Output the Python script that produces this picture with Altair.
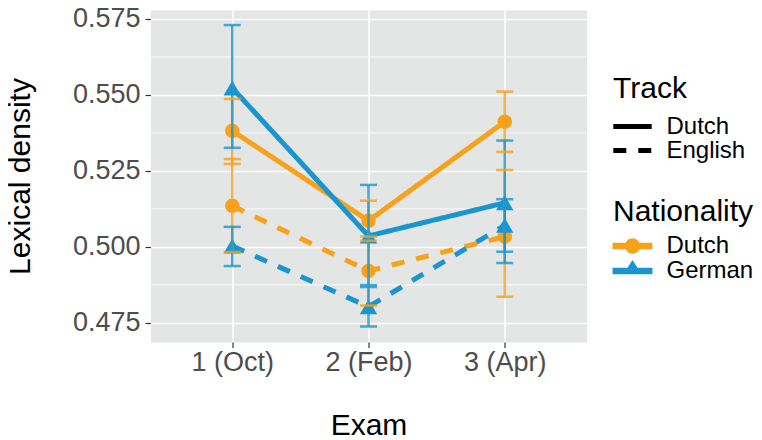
import altair as alt
import pandas as pd

# ---- data ----
exams = ["1 (Oct)", "2 (Feb)", "3 (Apr)"]
tracks = ["Dutch", "English"]
nationalities = ["Dutch", "German"]

dutch_dutch_mean = [0.5382, 0.5086, 0.5412]
dutch_dutch_lo = [0.5273, 0.5020, 0.5313]
dutch_dutch_hi = [0.5487, 0.5152, 0.5511]

dutch_english_mean = [0.5135, 0.4921, 0.5034]
dutch_english_lo = [0.4983, 0.4807, 0.4836]
dutch_english_hi = [0.5289, 0.5034, 0.5253]

german_dutch_mean = [0.5523, 0.5036, 0.5145]
german_dutch_lo = [0.5326, 0.4874, 0.4947]
german_dutch_hi = [0.5730, 0.5204, 0.5350]

german_english_mean = [0.5003, 0.4803, 0.5071]
german_english_lo = [0.4937, 0.4738, 0.4984]
german_english_hi = [0.5066, 0.4868, 0.5157]

y_ticks = [0.475, 0.500, 0.525, 0.550, 0.575]
minor_grid = [0.4875, 0.5125, 0.5375, 0.5625]
y_domain = [0.4687, 0.57796]

colors = ["#F8A11B", "#1996D0"]
dashes = [[1, 0], [13, 12]]

series = [
    ("Dutch", "Dutch", dutch_dutch_mean, dutch_dutch_lo, dutch_dutch_hi),
    ("Dutch", "English", dutch_english_mean, dutch_english_lo, dutch_english_hi),
    ("German", "Dutch", german_dutch_mean, german_dutch_lo, german_dutch_hi),
    ("German", "English", german_english_mean, german_english_lo, german_english_hi),
]
rows = []
for nat, trk, m, lo, hi in series:
    for e, mv, lv, hv in zip(exams, m, lo, hi):
        rows.append({"exam": e, "nationality": nat, "track": trk,
                     "mean": mv, "lo": lv, "hi": hv})
df = pd.DataFrame(rows)

FONT = "Liberation Sans"

y_axis = alt.Axis(values=y_ticks, format=".3f", labelFontSize=27, labelColor="#4d4d4d",
                  labelPadding=5, tickSize=5.5, tickColor="#333333", tickWidth=1.2,
                  domain=False, grid=True, gridColor="white", gridWidth=1.6,
                  titleFontSize=30, titleFontWeight="normal", titleColor="black",
                  titlePadding=37)
x_axis = alt.Axis(labelFontSize=27, labelColor="#4d4d4d", labelAngle=0, labelPadding=2,
                  tickSize=5.5, tickColor="#333333", tickWidth=1.2, domain=False,
                  grid=True, gridColor="white", gridWidth=1.6,
                  titleFontSize=30, titleFontWeight="normal", titleColor="black",
                  titlePadding=35)

y_scale = alt.Scale(domain=y_domain, nice=False, zero=False)
x_scale = alt.Scale(type="point", padding=0.6)
color_scale = alt.Scale(domain=nationalities, range=colors)


def y_enc(field):
    return alt.Y(f"{field}:Q", scale=y_scale, axis=y_axis, title="Lexical density")


def x_enc():
    return alt.X("exam:N", sort=exams, scale=x_scale, axis=x_axis, title="Exam")


def col(legend=None):
    return alt.Color("nationality:N", scale=color_scale, legend=legend)


base = alt.Chart(df)

minor = alt.Chart(pd.DataFrame({"v": minor_grid})).mark_rule(
    color="white", strokeWidth=0.8).encode(y=y_enc("v"))

track_legend = alt.Legend(
    title="Track", orient="none", legendX=462.5, legendY=64, padding=0,
    symbolType="M-3.2,0H3.2", symbolSize=144, symbolStrokeWidth=5,
    symbolStrokeColor="black", symbolOffset=7.5, labelOffset=22,
    rowPadding=0, titlePadding=10.5, labelFontSize=24, labelColor="black",
    titleFontSize=30, titleFontWeight="normal", titleColor="black")

lines = base.mark_line(strokeWidth=5).encode(
    x=x_enc(), y=y_enc("mean"), color=col(),
    strokeDash=alt.StrokeDash("track:N", scale=alt.Scale(domain=tracks, range=dashes),
                              legend=track_legend),
)

pts_dutch = base.transform_filter(alt.datum.nationality == "Dutch").mark_point(
    filled=True, shape="circle", size=210, opacity=1).encode(
    x=x_enc(), y=y_enc("mean"), color=col())
pts_german = base.transform_filter(alt.datum.nationality == "German").mark_point(
    filled=True, shape="triangle-up", size=300, opacity=1).encode(
    x=x_enc(), y=y_enc("mean"), color=col())

err_rule = base.mark_rule(strokeWidth=2.5, opacity=0.8).encode(
    x=x_enc(), y=y_enc("lo"), y2="hi:Q", color=col())
cap_lo = base.mark_tick(orient="horizontal", size=17, thickness=2.5, opacity=0.8).encode(
    x=x_enc(), y=y_enc("lo"), color=col())
cap_hi = base.mark_tick(orient="horizontal", size=17, thickness=2.5, opacity=0.8).encode(
    x=x_enc(), y=y_enc("hi"), color=col())

bar = "M-3.2,-0.42L3.2,-0.42L3.2,0.42L-3.2,0.42Z"
circ_path = (bar + "M1.15,0C1.15,0.64,0.64,1.15,0,1.15C-0.64,1.15,-1.15,0.64,-1.15,0"
             "C-1.15,-0.64,-0.64,-1.15,0,-1.15C0.64,-1.15,1.15,-0.64,1.15,0Z")
tri_path = bar + "M0,-1.6L1.3,0.42L-1.3,0.42Z"

nat_legend = alt.Legend(
    title="Nationality", orient="none", legendX=462.5, legendY=187, padding=0,
    symbolSize=144, symbolOffset=7.5, labelOffset=22, rowPadding=0,
    titlePadding=7, labelFontSize=24, labelColor="black",
    titleFontSize=30, titleFontWeight="normal", titleColor="black")

# invisible layer (size 0) that only carries the Nationality legend; placed first
# so that its legend settings win when the layers' legends are merged
legend_layer = base.mark_point(filled=True, opacity=1, size=0).encode(
    x=x_enc(), y=y_enc("mean"),
    color=alt.Color("nationality:N", scale=color_scale, legend=nat_legend),
    shape=alt.Shape("nationality:N",
                    scale=alt.Scale(domain=nationalities, range=[circ_path, tri_path]),
                    legend=nat_legend),
)

chart = alt.layer(legend_layer, minor, lines, pts_dutch, pts_german, err_rule, cap_lo,
                  cap_hi).properties(
    width=436, height=332,
    autosize=alt.AutoSizeParams(type="none"),
    padding={"left": 142.5, "top": 2, "right": 167.5, "bottom": 98},
).configure(font=FONT).configure_view(fill="#E4E5E5", stroke="transparent")

chart.save("out.html", embed_options={"renderer": "svg", "actions": False})
